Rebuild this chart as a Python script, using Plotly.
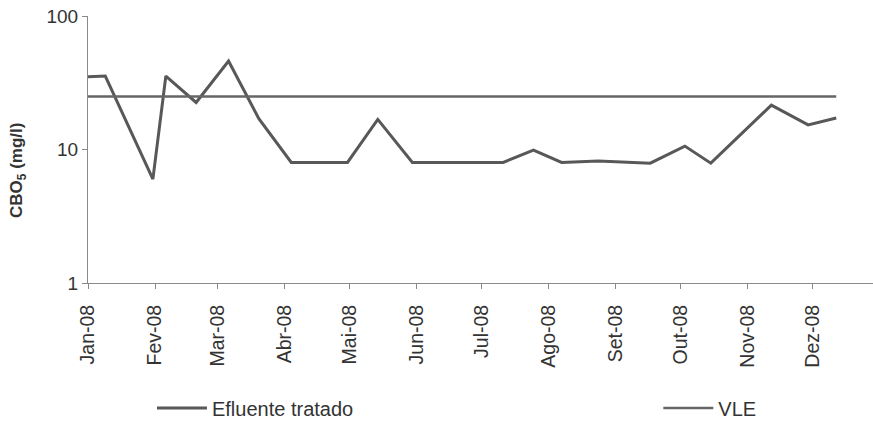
import plotly.graph_objects as go

# Sampling dates and measured CBO5 of the treated effluent (mg/l)
dates = [
    "2008-01-01", "2008-01-09", "2008-01-31", "2008-02-06", "2008-02-20",
    "2008-03-06", "2008-03-20", "2008-04-04", "2008-04-30", "2008-05-14",
    "2008-05-30", "2008-07-11", "2008-07-25", "2008-08-07", "2008-08-24",
    "2008-09-07", "2008-09-17", "2008-10-03", "2008-10-15", "2008-11-12",
    "2008-11-29", "2008-12-12",
]
efluente = [
    35, 35.5, 6, 35.5, 22.5,
    46, 17, 8, 8, 16.8,
    8, 8, 9.9, 8, 8.2,
    8, 7.9, 10.6, 7.9, 21.5,
    15.3, 17.2,
]

# Emission limit value (VLE)
vle_dates = ["2008-01-01", "2008-12-12"]
vle = [25, 25]

# Month ticks
month_ticks = [f"2008-{m:02d}-01" for m in range(1, 13)]
month_labels = ["Jan-08", "Fev-08", "Mar-08", "Abr-08", "Mai-08", "Jun-08",
                "Jul-08", "Ago-08", "Set-08", "Out-08", "Nov-08", "Dez-08"]

line_color = "#585858"
axis_color = "#8a8a8a"
text_color = "#333333"
legend_font = dict(family="Liberation Sans Narrow, Arial Narrow, Liberation Sans",
                   size=20, color=text_color)

fig = go.Figure()
fig.add_trace(go.Scatter(
    x=dates, y=efluente, mode="lines", name="Efluente tratado",
    line=dict(color=line_color, width=3), legend="legend",
))
fig.add_trace(go.Scatter(
    x=vle_dates, y=vle, mode="lines", name="VLE",
    line=dict(color="#666666", width=2.5), legend="legend2",
))

fig.update_layout(
    width=873, height=422,
    margin=dict(l=88, r=0, t=16, b=139, autoexpand=False),
    paper_bgcolor="white", plot_bgcolor="white",
    font=dict(family="Liberation Sans, Arial, sans-serif", color=text_color, size=15),
    showlegend=True,
    legend=dict(
        x=0.0815, xanchor="left", y=0.033, yref="container", yanchor="middle",
        font=legend_font, bgcolor="rgba(0,0,0,0)", itemwidth=50,
    ),
    legend2=dict(
        x=0.7265, xanchor="left", y=0.033, yref="container", yanchor="middle",
        font=legend_font, bgcolor="rgba(0,0,0,0)", itemwidth=50,
    ),
    annotations=[dict(
        text="<b>CBO<sub>5</sub> (mg/l)</b>", textangle=-90,
        x=-0.089, xref="paper", y=0.42, yref="paper",
        xanchor="center", yanchor="middle", showarrow=False,
        font=dict(size=17, color=text_color),
    )],
)

fig.update_xaxes(
    type="date",
    range=["2008-01-01", "2008-12-29"],
    tickvals=month_ticks, ticktext=month_labels,
    tickangle=-90,
    tickfont=dict(size=19.5),
    ticklabelstandoff=8,
    showline=True, linecolor=axis_color, linewidth=1,
    ticks="outside", ticklen=5, tickcolor=axis_color,
    showgrid=False, zeroline=False,
)
fig.update_yaxes(
    type="log", range=[0, 2],
    tickvals=[1, 10, 100], ticktext=["1", "10", "100"],
    tickfont=dict(size=19),
    showline=True, linecolor=axis_color, linewidth=1,
    ticks="outside", ticklen=5, tickcolor=axis_color,
    showgrid=False, zeroline=False,
)

fig.write_html("out.html")
